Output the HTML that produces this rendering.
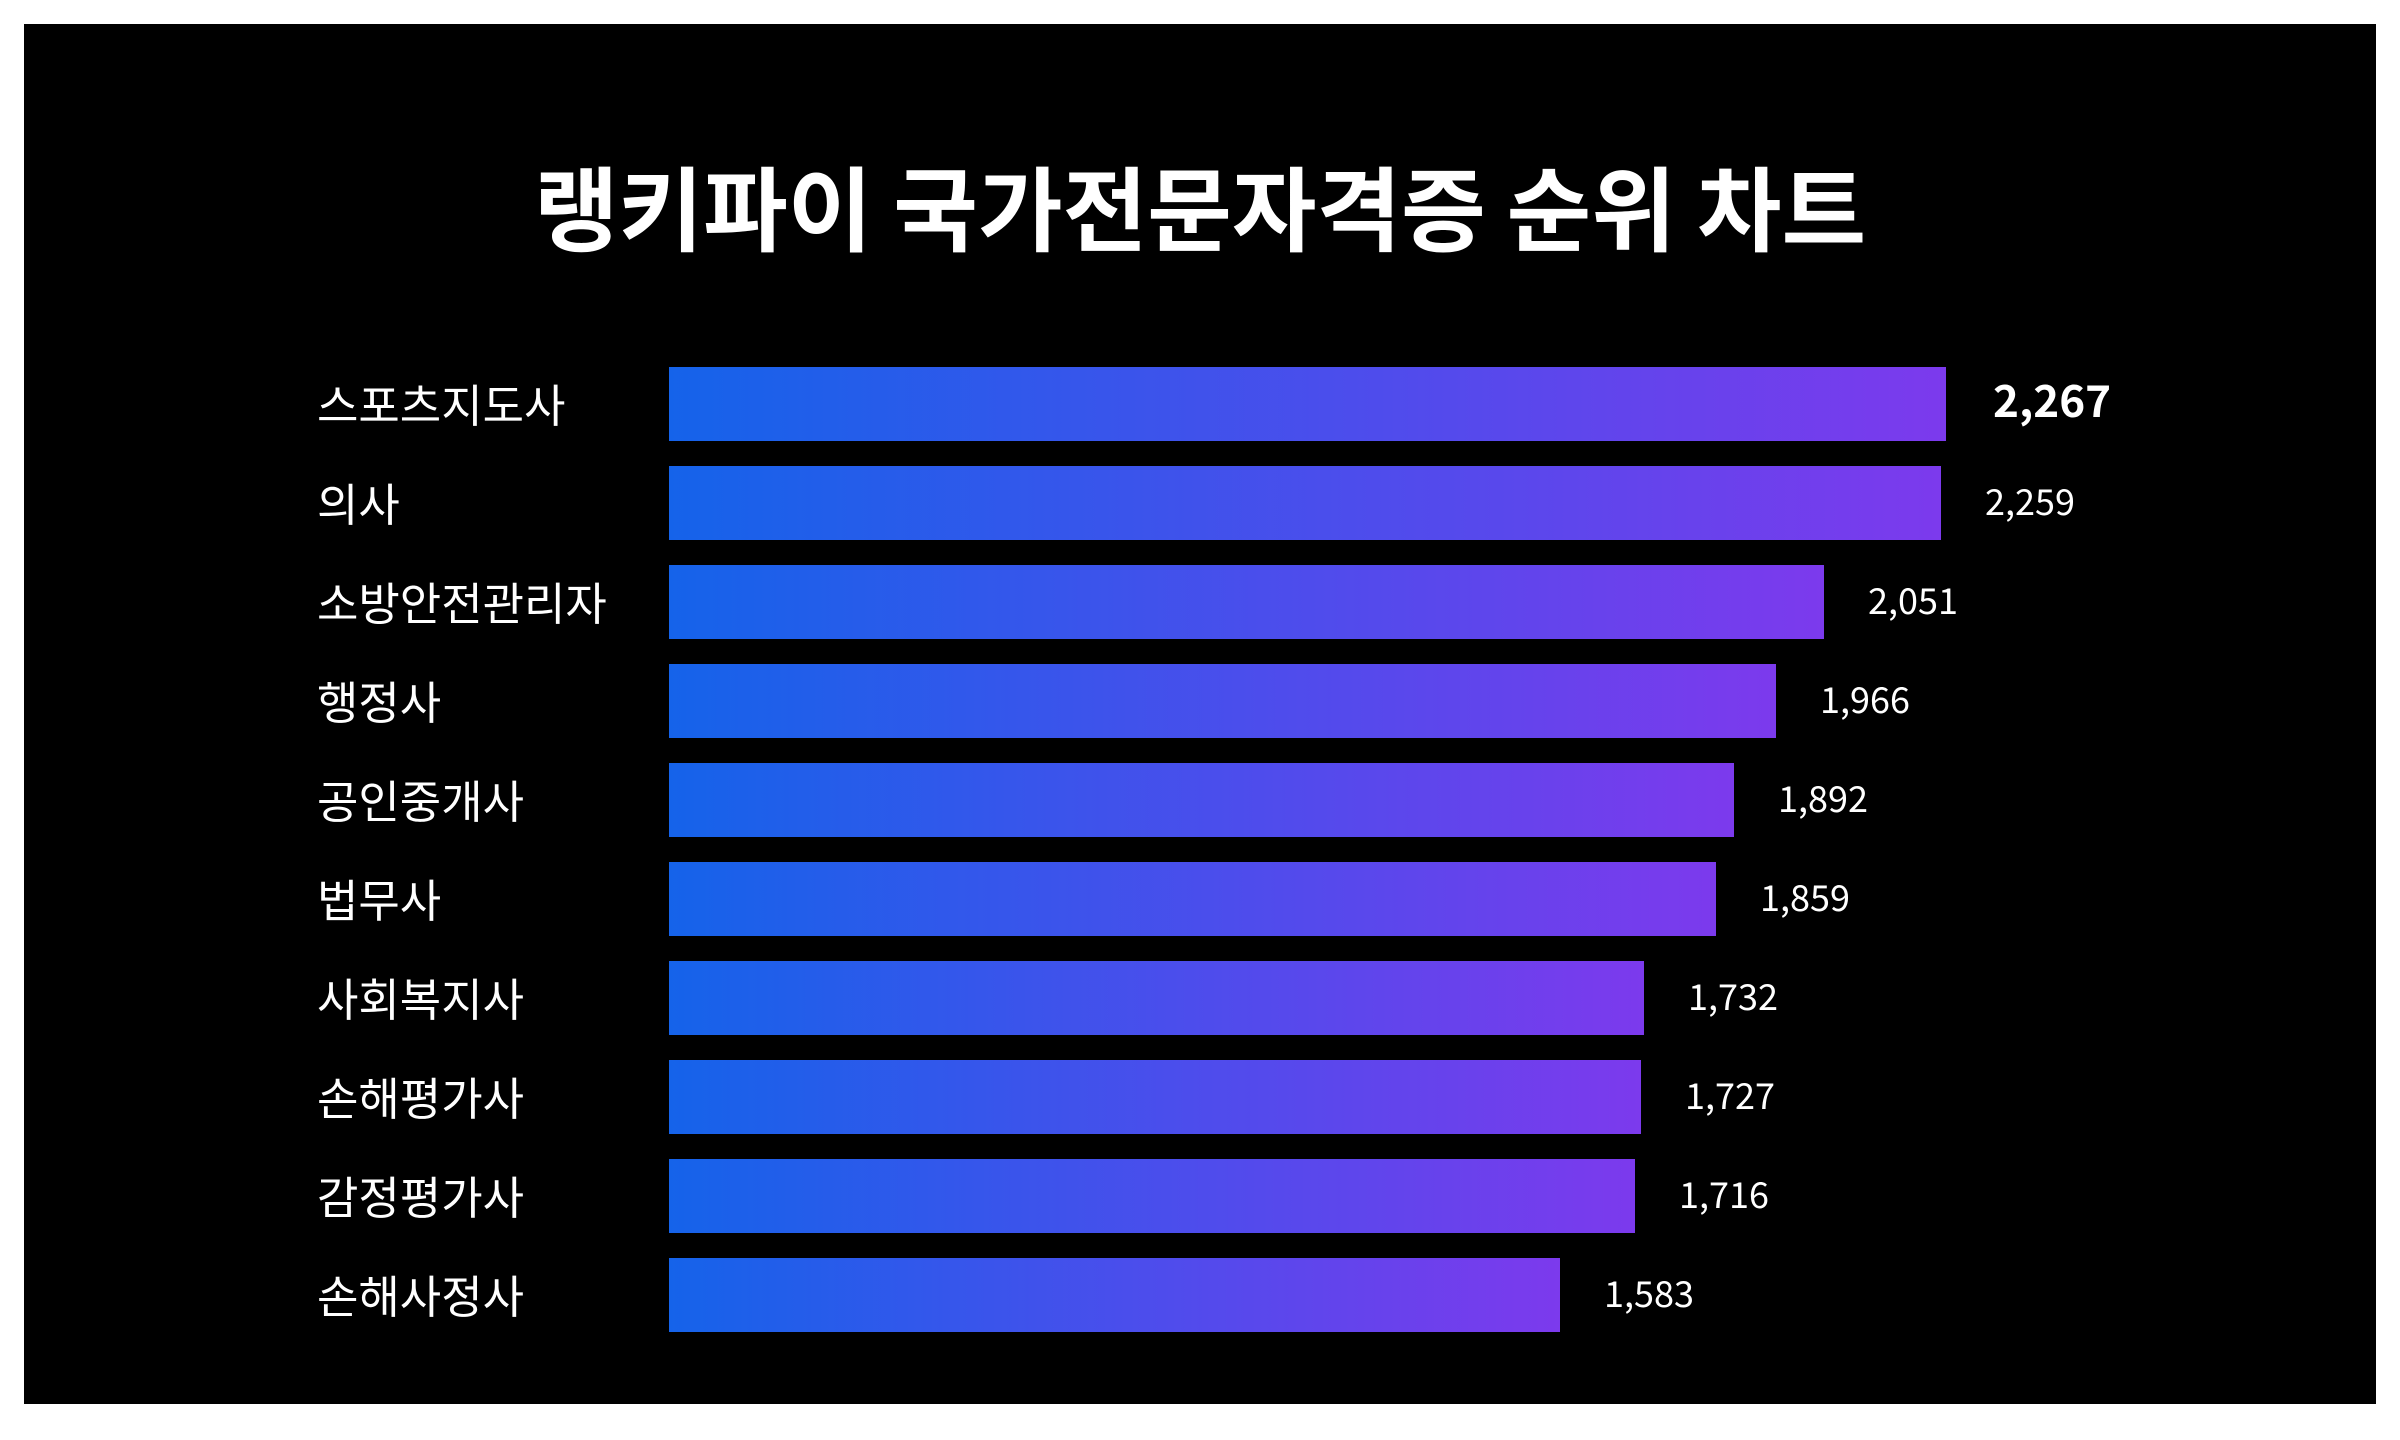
<!DOCTYPE html>
<html><head><meta charset="utf-8"><style>
html,body{margin:0;padding:0;background:#fff;}
body{width:2400px;height:1440px;position:relative;overflow:hidden;font-family:"Liberation Sans","Noto Sans CJK KR",sans-serif;}
#panel{position:absolute;left:24px;top:24px;width:2352px;height:1380px;background:#000;}
h1{position:absolute;left:0;width:2400px;text-align:center;margin:0;top:145px;font-family:"Noto Sans CJK KR",sans-serif;font-weight:700;font-size:92px;line-height:120px;color:#fff;}
.lab{position:absolute;left:317px;height:74px;line-height:74px;font-family:"Noto Sans CJK KR",sans-serif;font-size:45px;color:#fff;white-space:nowrap;}
.bar{position:absolute;left:669px;height:74px;background:linear-gradient(90deg,#1563ea,#7c3aed);}
.val{position:absolute;height:74px;line-height:74px;margin-top:-3px;font-family:"Noto Sans CJK KR",sans-serif;font-size:36px;color:#fff;white-space:nowrap;}
.val.b{font-weight:700;font-size:44px;}
</style></head><body>
<div id="panel"></div>
<h1>랭키파이 국가전문자격증 순위 차트</h1>
<div class="lab" style="top:366px">스포츠지도사</div><div class="bar" style="top:367px;width:1277px"></div><div class="val b" style="top:364px;left:1993px">2,267</div>
<div class="lab" style="top:465px">의사</div><div class="bar" style="top:466px;width:1272px"></div><div class="val" style="top:466px;left:1985px">2,259</div>
<div class="lab" style="top:564px">소방안전관리자</div><div class="bar" style="top:565px;width:1155px"></div><div class="val" style="top:565px;left:1868px">2,051</div>
<div class="lab" style="top:663px">행정사</div><div class="bar" style="top:664px;width:1107px"></div><div class="val" style="top:664px;left:1820px">1,966</div>
<div class="lab" style="top:762px">공인중개사</div><div class="bar" style="top:763px;width:1065px"></div><div class="val" style="top:763px;left:1778px">1,892</div>
<div class="lab" style="top:861px">법무사</div><div class="bar" style="top:862px;width:1047px"></div><div class="val" style="top:862px;left:1760px">1,859</div>
<div class="lab" style="top:960px">사회복지사</div><div class="bar" style="top:961px;width:975px"></div><div class="val" style="top:961px;left:1688px">1,732</div>
<div class="lab" style="top:1059px">손해평가사</div><div class="bar" style="top:1060px;width:972px"></div><div class="val" style="top:1060px;left:1685px">1,727</div>
<div class="lab" style="top:1158px">감정평가사</div><div class="bar" style="top:1159px;width:966px"></div><div class="val" style="top:1159px;left:1679px">1,716</div>
<div class="lab" style="top:1257px">손해사정사</div><div class="bar" style="top:1258px;width:891px"></div><div class="val" style="top:1258px;left:1604px">1,583</div>
</body></html>
